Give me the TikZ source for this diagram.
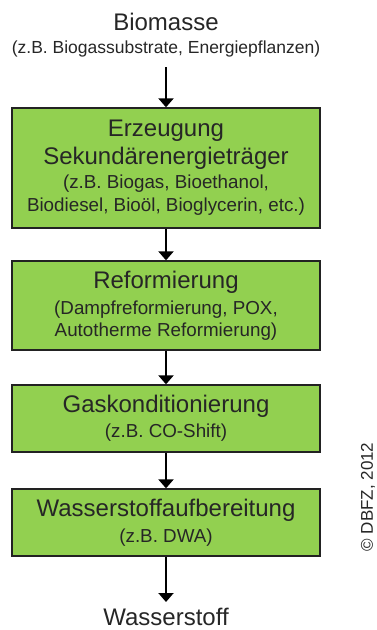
\documentclass[tikz,border=0pt]{standalone}
\usepackage{fontspec}
\setmainfont{Liberation Sans}
\usetikzlibrary{arrows.meta}
\definecolor{boxgreen}{HTML}{92D050}
\definecolor{txt}{HTML}{262626}
\newcommand{\ttl}{\fontsize{24}{28}\selectfont}
\newcommand{\subt}{\fontsize{18.8}{22}\selectfont}
\begin{document}
\begin{tikzpicture}[x=1pt,y=-1pt,
  stepbox/.style={draw=txt!90!black,line width=1.3pt,fill=boxgreen,minimum width=308pt,inner sep=0pt,align=center,text=txt,font=\ttl},
  arr/.style={line width=2pt,-{Triangle[width=15pt,length=9pt]}},
  plain/.style={inner sep=0pt,text=txt}]
\useasboundingbox (0,0) rectangle (377,630);
\node[plain,anchor=base,font=\fontsize{24}{28}\selectfont] (bio) at (166,30) {Biomasse};
\node[plain,anchor=base,font=\fontsize{17.5}{21}\selectfont] (biosub) at (166,53) {(z.B. Biogassubstrate, Energiepflanzen)};
\node[stepbox,minimum height=120pt] (b1) at (166,168) {Erzeugung\\ Sekundärenergieträger\\[-4pt] {\subt (z.B. Biogas, Bioethanol,}\\[-5pt] {\subt Biodiesel, Bioöl, Bioglycerin, etc.)}};
\node[stepbox,minimum height=89pt] (b2) at (166,305.5) {Reformierung\\[-2pt] {\subt (Dampfreformierung, POX,}\\[-6pt] {\subt Autotherme Reformierung)}};
\node[stepbox,minimum height=67pt] (b3) at (166,418.5) {Gaskonditionierung\\[-3pt] {\subt (z.B. CO-Shift)}};
\node[stepbox,minimum height=67pt] (b4) at (166,522.5) {Wasserstoffaufbereitung\\[-2pt] {\subt (z.B. DWA)}};
\node[plain,anchor=base,font=\ttl] (h2) at (166,625) {Wasserstoff};
\coordinate (tip) at (166,602);
\coordinate (start) at (166,67);
\node[plain,rotate=90,font=\fontsize{17}{20}\selectfont] (copy) at (368,497) {© DBFZ, 2012};
\draw[arr] (start) -- (b1.north);
\draw[arr] (b1.south) -- (b2.north);
\draw[arr] (b2.south) -- (b3.north);
\draw[arr] (b3.south) -- (b4.north);
\draw[arr] (b4.south) -- (tip);
\end{tikzpicture}
\end{document}
